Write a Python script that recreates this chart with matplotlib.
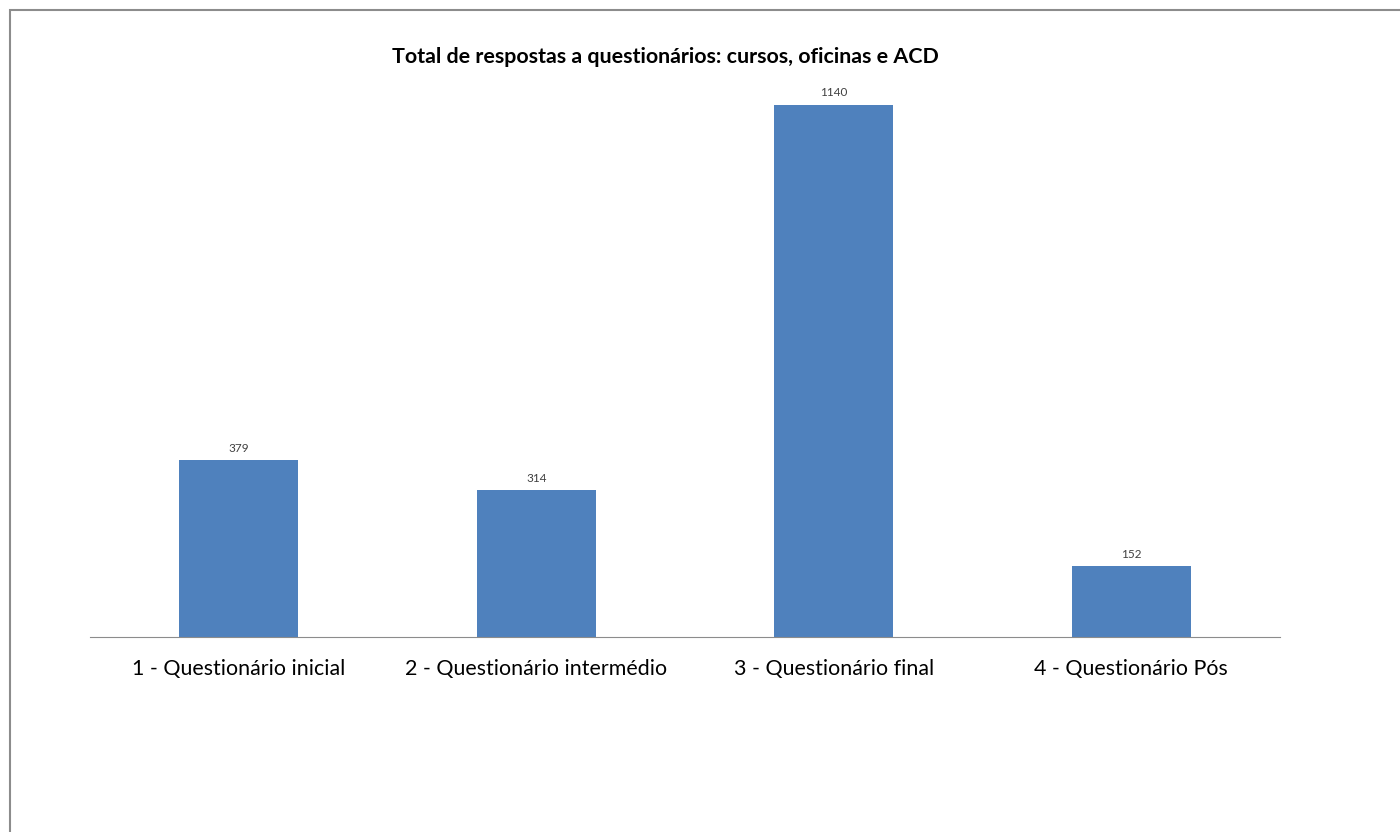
import matplotlib.pyplot as plt
from matplotlib.patches import Rectangle

categorias = ["1 - Questionário inicial", "2 - Questionário intermédio",
              "3 - Questionário final", "4 - Questionário Pós"]
respostas = [379, 314, 1140, 152]
titulo = "Total de respostas a questionários: cursos, oficinas e ACD"

plt.rcParams['font.family'] = ['Lato', 'DejaVu Sans']

W, H = 1400, 832
fig = plt.figure(figsize=(14, 8.32), dpi=100)

# moldura cinzenta (cortada à direita e em baixo)
fig.patches.append(Rectangle((10 / W, -0.1), 1.2, 1 - 10 / H + 0.1,
                             transform=fig.transFigure, fill=False,
                             edgecolor="#8c8c8c", linewidth=1.5))

ax = fig.add_axes([90 / W, 1 - 637 / H, 1190 / W, (637 - 90) / H])
x = range(len(respostas))
ax.bar(x, respostas, width=0.4, color="#4F81BD")
ax.set_xlim(-0.5, len(respostas) - 0.5)
ax.set_ylim(0, 547 / (532 / 1140))

for xi, v in zip(x, respostas):
    ax.text(xi, v + 14, str(v), ha="center", va="bottom", fontsize=8.5, color="#404040")

ax.set_xticks(list(x))
ax.set_xticklabels(categorias, fontsize=15.4)
ax.tick_params(axis="x", length=0, pad=16)
ax.set_yticks([])
for s in ["top", "right", "left"]:
    ax.spines[s].set_visible(False)
ax.spines["bottom"].set_color("#8c8c8c")

fig.text(665 / W, 1 - 57 / H, titulo, ha="center", va="center",
         fontsize=15.4, fontweight="bold")

fig.savefig("out.png", dpi=100)
